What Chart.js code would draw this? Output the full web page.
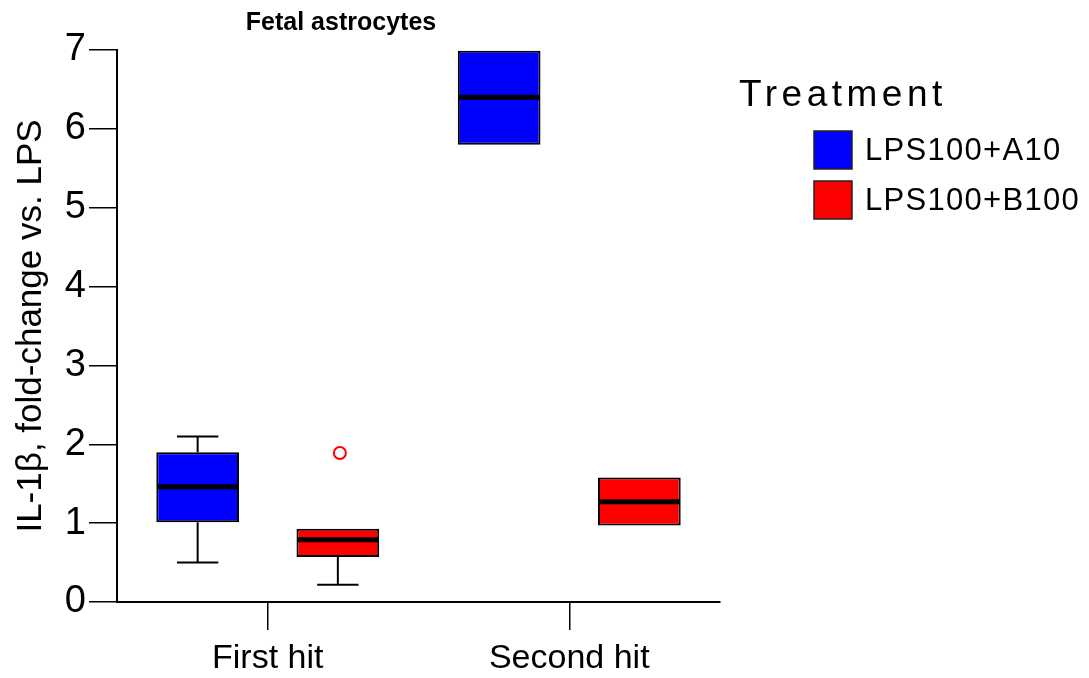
<!DOCTYPE html>
<html>
<head>
<meta charset="utf-8">
<title>Fetal astrocytes</title>
<script src="https://cdn.jsdelivr.net/npm/chart.js@4.4.1/dist/chart.umd.min.js"></script>
<style>
    html, body { margin: 0; padding: 0; background: #fff; }
    #wrap { width: 1089px; height: 678px; position: relative; }
</style>
</head>
<body>
<div id="wrap"><canvas id="boxChart"></canvas></div>
<script>
// data
const categories = ["First hit", "Second hit"];
const seriesLabels = ["LPS100+A10", "LPS100+B100"];
const seriesColors = ["#0000ff", "#ff0000"];

const a10Min = [0.50, 5.80];
const a10Q1 = [1.01, 5.80];
const a10Median = [1.46, 6.40];
const a10Q3 = [1.90, 6.99];
const a10Max = [2.10, 6.99];
const a10Outliers = [[], []];

const b100Min = [0.22, 0.97];
const b100Q1 = [0.57, 0.97];
const b100Median = [0.79, 1.27];
const b100Q3 = [0.93, 1.58];
const b100Max = [0.93, 1.58];
const b100Outliers = [[1.89], []];

const yTicks = [0, 1, 2, 3, 4, 5, 6, 7];

const FONT = "'Liberation Sans', Arial, Helvetica, sans-serif";

const stats = [
    { min: a10Min, q1: a10Q1, med: a10Median, q3: a10Q3, max: a10Max, out: a10Outliers },
    { min: b100Min, q1: b100Q1, med: b100Median, q3: b100Q3, max: b100Max, out: b100Outliers }
];

// whiskers, medians and outliers on top of the floating bars
const boxParts = {
    id: "boxParts",
    afterDatasetsDraw(chart) {
        const ctx = chart.ctx;
        const y = chart.scales.y;
        ctx.save();
        stats.forEach((s, di) => {
            const meta = chart.getDatasetMeta(di);
            meta.data.forEach((bar, i) => {
                const cx = bar.x;
                const half = bar.width / 2;
                const cap = bar.width / 4;
                ctx.strokeStyle = "#000";
                ctx.lineWidth = 2;
                ctx.beginPath();
                if (s.max[i] > s.q3[i]) {
                    ctx.moveTo(cx, y.getPixelForValue(s.q3[i]));
                    ctx.lineTo(cx, y.getPixelForValue(s.max[i]));
                    ctx.moveTo(cx - cap, y.getPixelForValue(s.max[i]));
                    ctx.lineTo(cx + cap, y.getPixelForValue(s.max[i]));
                }
                if (s.min[i] < s.q1[i]) {
                    ctx.moveTo(cx, y.getPixelForValue(s.q1[i]));
                    ctx.lineTo(cx, y.getPixelForValue(s.min[i]));
                    ctx.moveTo(cx - cap, y.getPixelForValue(s.min[i]));
                    ctx.lineTo(cx + cap, y.getPixelForValue(s.min[i]));
                }
                ctx.stroke();

                ctx.lineWidth = 5;
                ctx.beginPath();
                ctx.moveTo(cx - half + 1, y.getPixelForValue(s.med[i]));
                ctx.lineTo(cx + half - 1, y.getPixelForValue(s.med[i]));
                ctx.stroke();

                ctx.strokeStyle = seriesColors[di];
                ctx.lineWidth = 2;
                s.out[i].forEach(v => {
                    ctx.beginPath();
                    ctx.arc(cx + 2, y.getPixelForValue(v), 6, 0, Math.PI * 2);
                    ctx.stroke();
                });
            });
        });
        ctx.restore();
    }
};

// title and legend drawn by hand so they sit where the figure has them
const decorations = {
    id: "decorations",
    afterDraw(chart) {
        const ctx = chart.ctx;
        ctx.save();
        ctx.fillStyle = "#000";
        ctx.textAlign = "center";
        ctx.textBaseline = "alphabetic";
        ctx.font = "bold 25px " + FONT;
        ctx.fillText("Fetal astrocytes", 341, 30);

        ctx.textAlign = "left";
        ctx.font = "37px " + FONT;
        ctx.letterSpacing = "4.5px";
        ctx.fillText("Treatment", 739, 106);

        ctx.font = "31px " + FONT;
        ctx.letterSpacing = "1.3px";
        ctx.textBaseline = "middle";
        chart.data.datasets.forEach((ds, i) => {
            const top = 131 + i * 50;
            ctx.fillStyle = ds.backgroundColor;
            ctx.fillRect(814, top, 38, 38);
            ctx.strokeStyle = "#222";
            ctx.lineWidth = 1.5;
            ctx.strokeRect(814, top, 38, 38);
            ctx.fillStyle = "#000";
            ctx.fillText(ds.label, 865, top + 20);
        });
        ctx.restore();
    }
};

const datasets = stats.map((s, i) => ({
    label: seriesLabels[i],
    data: s.q1.map((q, k) => [q, s.q3[k]]),
    backgroundColor: seriesColors[i],
    borderColor: "#000",
    borderWidth: 2,
    borderSkipped: false,
    categoryPercentage: 0.93,
    barPercentage: 0.59
}));

new Chart(document.getElementById("boxChart"), {
    type: "bar",
    data: { labels: categories, datasets: datasets },
    options: {
        responsive: true,
        maintainAspectRatio: false,
        animation: false,
        layout: { padding: { top: 50, right: 369, bottom: 0, left: 0 } },
        plugins: {
            legend: { display: false },
            tooltip: { enabled: false },
            title: { display: false }
        },
        scales: {
            x: {
                offset: true,
                grid: {
                    offset: false,
                    drawOnChartArea: false,
                    drawTicks: true,
                    tickLength: 28,
                    color: "#000",
                    lineWidth: 1.5
                },
                border: { display: true, color: "#000", width: 2 },
                ticks: {
                    color: "#000",
                    padding: 8,
                    maxRotation: 0,
                    font: { family: FONT, size: 34 }
                },
                afterFit: s => { s.height = 76; }
            },
            y: {
                min: 0,
                max: 7,
                afterBuildTicks: s => { s.ticks = yTicks.map(v => ({ value: v })); },
                grid: {
                    drawOnChartArea: false,
                    drawTicks: true,
                    tickLength: 28,
                    color: "#000",
                    lineWidth: 1.5
                },
                border: { display: true, color: "#000", width: 2 },
                ticks: {
                    color: "#000",
                    padding: 3,
                    font: { family: FONT, size: 38 }
                },
                title: {
                    display: true,
                    text: "IL-1\u03b2, fold-change vs. LPS",
                    color: "#000",
                    padding: { top: 10, bottom: 0 },
                    font: { family: FONT, size: 35 }
                },
                afterFit: s => { s.width = 117; }
            }
        }
    },
    plugins: [boxParts, decorations]
});
</script>
</body>
</html>
